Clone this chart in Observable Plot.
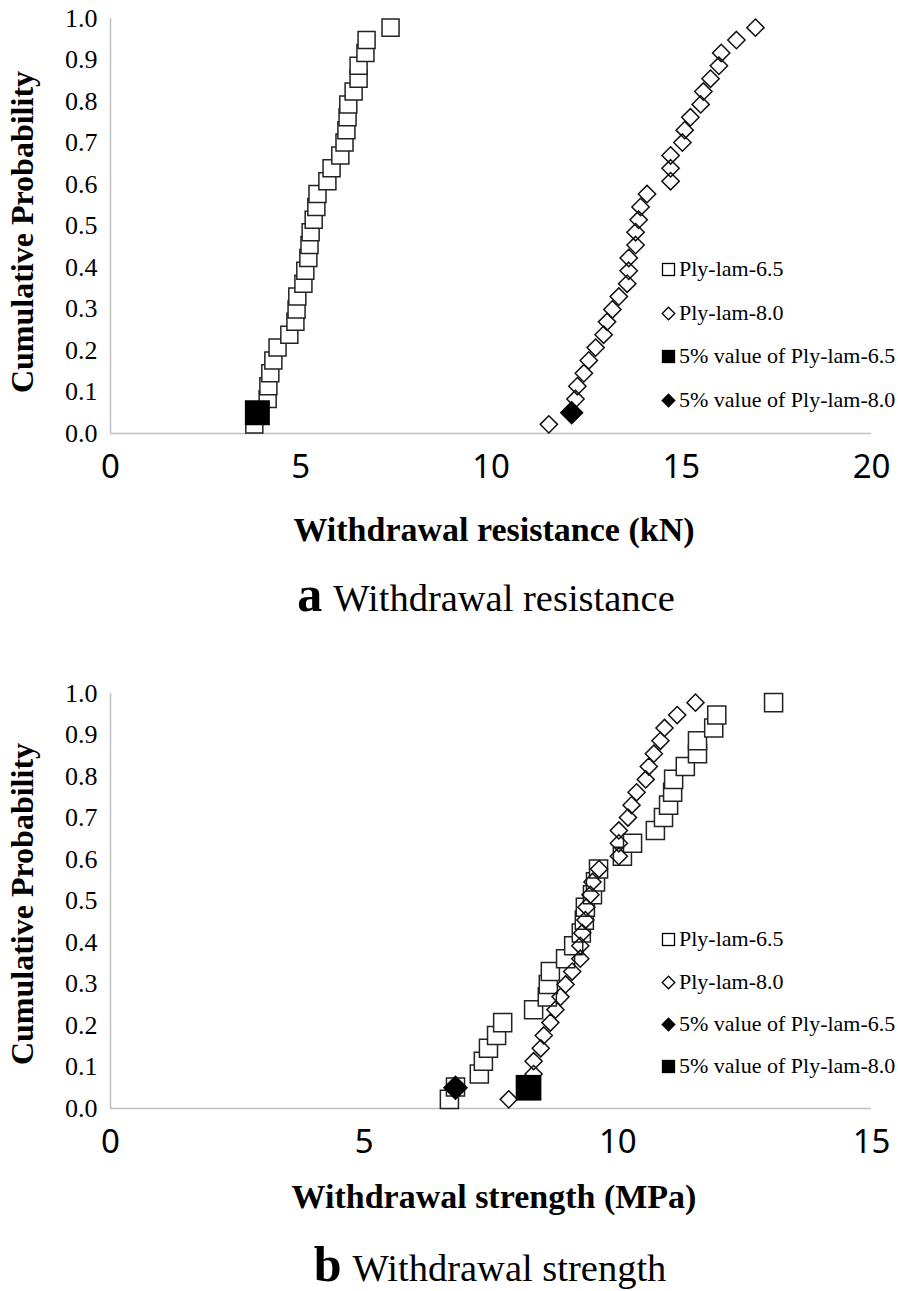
<!DOCTYPE html>
<html><head><meta charset="utf-8">
<script src="https://cdn.jsdelivr.net/npm/d3@7"></script>
<script src="https://cdn.jsdelivr.net/npm/@observablehq/plot@0.6"></script>
<style>
html,body{margin:0;padding:0;background:#fff;}
#root{position:relative;width:898px;height:1291px;overflow:hidden;background:#fff;font-family:"Liberation Serif","Times New Roman",serif;color:#000;}
.panel{position:absolute;left:0;}
.c{position:absolute;transform:translate(-50%,-50%);white-space:nowrap;line-height:1;}
.ytitle{position:absolute;transform:translate(-50%,-50%) rotate(-90deg);white-space:nowrap;font-weight:bold;font-size:32px;line-height:1;}
.xtitle{font-weight:bold;font-size:34px;}
.cap{font-size:38.5px;}
.cap b{font-size:50px;margin-right:11px;}
.leg{position:absolute;left:661px;font-size:22px;line-height:1;white-space:nowrap;display:flex;align-items:center;transform:translateY(-50%);}
.leg svg{margin-right:3px;}
</style></head><body><div id="root"></div>
<script>
// ---- data ----
const prob = [0.022,0.052,0.083,0.114,0.145,0.176,0.207,0.238,0.269,0.299,0.330,0.361,0.392,0.423,0.454,0.485,0.515,0.546,0.577,0.608,0.639,0.670,0.701,0.731,0.762,0.793,0.824,0.855,0.886,0.917,0.948,0.978];
const resistance65 = [3.78,3.92,4.13,4.15,4.20,4.28,4.39,4.70,4.86,4.89,4.91,5.07,5.12,5.20,5.23,5.26,5.34,5.41,5.44,5.70,5.81,6.04,6.15,6.20,6.23,6.25,6.39,6.52,6.52,6.70,6.73,7.36];
const resistance80 = [11.52,12.09,12.22,12.27,12.44,12.57,12.75,12.96,13.05,13.19,13.36,13.58,13.62,13.62,13.80,13.80,13.88,13.93,14.10,14.72,14.72,14.72,15.03,15.09,15.24,15.51,15.58,15.77,15.99,16.05,16.45,16.95];
const strength65 = [6.68,6.80,7.27,7.35,7.45,7.61,7.73,8.34,8.61,8.63,8.67,8.97,9.13,9.28,9.34,9.36,9.50,9.56,9.62,10.09,10.29,10.74,10.90,11.00,11.08,11.10,11.33,11.57,11.57,11.89,11.95,13.07];
const strength80 = [7.85,8.22,8.34,8.34,8.48,8.54,8.67,8.77,8.87,8.97,9.10,9.26,9.26,9.30,9.36,9.38,9.46,9.50,9.63,10.02,10.02,10.02,10.20,10.27,10.37,10.55,10.61,10.71,10.84,10.92,11.17,11.53];
const p5 = 0.05;
const resistance5pct65 = 3.86, resistance5pct80 = 12.12;
const strength5pct65 = 6.80, strength5pct80 = 8.24;
const xTicksA = [0,5,10,15,20];
const xTicksB = [0,5,10,15];
const yTicks = [0,0.1,0.2,0.3,0.4,0.5,0.6,0.7,0.8,0.9,1.0];
const yTitle = "Cumulative Probability";
const xTitleA = "Withdrawal resistance (kN)";
const xTitleB = "Withdrawal strength (MPa)";
const capLetterA = "a", capTextA = "Withdrawal resistance";
const capLetterB = "b", capTextB = "Withdrawal strength";
const legendLabelsA = ["Ply-lam-6.5","Ply-lam-8.0","5% value of Ply-lam-6.5","5% value of Ply-lam-8.0"];
const legendShapesA = ["square","diamond","squareFilled","diamondFilled"];
const legendLabelsB = ["Ply-lam-6.5","Ply-lam-8.0","5% value of Ply-lam-6.5","5% value of Ply-lam-8.0"];
const legendShapesB = ["square","diamond","diamondFilled","squareFilled"];

const root = document.getElementById("root");
const toRows = (vals) => vals.map((v,i) => ({v, p: prob[i]}));
const TICKX = "xtick-labels";

function panel(xmax, xTicks, s65, s80, marks5, sqR, diR) {
  const fig = Plot.plot({
    width: 898, height: 500,
    marginTop: 18, marginBottom: 67, marginLeft: 110, marginRight: 27,
    x: {domain: [0, xmax], axis: null},
    y: {domain: [0, 1], axis: null},
    style: {background: "transparent", overflow: "visible"},
    marks: [
      Plot.ruleY([0], {stroke: "#c0c0c0", strokeWidth: 1.5}),
      Plot.ruleX([0], {stroke: "#c0c0c0", strokeWidth: 1.5}),
      Plot.text(xTicks, {x: d => d, frameAnchor: "bottom", dy: 44, text: d => String(d), ariaLabel: TICKX,
        fontFamily: "Noto Sans, DejaVu Sans, sans-serif", fontSize: 33, fill: "#000"}),
      Plot.text(yTicks, {y: d => d, frameAnchor: "left", dx: -13, textAnchor: "end", text: d => d.toFixed(1),
        fontFamily: "Liberation Serif, Times New Roman, serif", fontSize: 26, fill: "#000"}),
      Plot.dot(toRows(s65), {x: "v", y: "p", symbol: "square", r: sqR, fill: "white", stroke: "#222", strokeWidth: 1.5}),
      Plot.dot(toRows(s80), {x: "v", y: "p", symbol: "diamond2", r: diR, fill: "none", stroke: "#111", strokeWidth: 1.5}),
      ...marks5
    ]
  });
  // narrow the x tick label glyphs horizontally (condensed look)
  fig.querySelectorAll(`g[aria-label="${TICKX}"] text`).forEach(t => {
    const tr = t.getAttribute("transform");
    if (tr) {
      t.setAttribute("transform", tr + " scale(0.85,1)");
    } else {
      const x = +t.getAttribute("x") || 0, y = +t.getAttribute("y") || 0;
      t.removeAttribute("x"); t.removeAttribute("y");
      t.setAttribute("transform", `translate(${x},${y}) scale(0.85,1)`);
    }
  });
  return fig;
}

const figA = panel(20, xTicksA, resistance65, resistance80, [
  Plot.dot([{v: resistance5pct65, p: p5}], {x: "v", y: "p", symbol: "square", r: 14.1, fill: "#000"}),
  Plot.dot([{v: resistance5pct80, p: p5}], {x: "v", y: "p", symbol: "diamond2", r: 10.8, fill: "#000"})
], 9.6, 7.8);
figA.classList.add("panel");
figA.style.top = "0px";
root.appendChild(figA);

const figB = panel(15, xTicksB, strength65, strength80, [
  Plot.dot([{v: strength5pct65, p: p5}], {x: "v", y: "p", symbol: "diamond2", r: 11.3, fill: "#000"}),
  Plot.dot([{v: strength5pct80, p: p5}], {x: "v", y: "p", symbol: "square", r: 14.5, fill: "#000"})
], 10.2, 7.7);
figB.classList.add("panel");
figB.style.top = "675px";
root.appendChild(figB);

// ---- text ----
function addDiv(cls, html, x, y) {
  const d = document.createElement("div");
  d.className = cls;
  d.style.left = x + "px";
  d.style.top = y + "px";
  d.innerHTML = html;
  root.appendChild(d);
  return d;
}
addDiv("ytitle", yTitle, 22, 232);
addDiv("ytitle", yTitle, 22, 904);
addDiv("c xtitle", xTitleA, 494, 530);
addDiv("c xtitle", xTitleB, 494, 1197);
addDiv("c cap", `<b>${capLetterA}</b>${capTextA}`, 486, 594);
addDiv("c cap", `<b>${capLetterB}</b>${capTextB}`, 490, 1264);

function symbolSvg(shape) {
  const filled = shape.endsWith("Filled");
  const fill = filled ? "#000" : "#fff";
  const isSq = shape.startsWith("square");
  const inner = isSq
    ? `<rect x="1.5" y="1.5" width="12" height="12" fill="${fill}" stroke="#000" stroke-width="1.3"/>`
    : `<path d="M7.5,1.2L13.8,7.5L7.5,13.8L1.2,7.5Z" fill="${fill}" stroke="#000" stroke-width="1.3"/>`;
  return `<svg width="15" height="15" viewBox="0 0 15 15">${inner}</svg>`;
}
const legYA = [269, 313, 356, 400];
const legYB = [939, 982, 1024, 1066];
legendLabelsA.forEach((lab, i) => addDiv("leg", symbolSvg(legendShapesA[i]) + lab, 661, legYA[i]));
legendLabelsB.forEach((lab, i) => addDiv("leg", symbolSvg(legendShapesB[i]) + lab, 661, legYB[i]));
</script></body></html>
